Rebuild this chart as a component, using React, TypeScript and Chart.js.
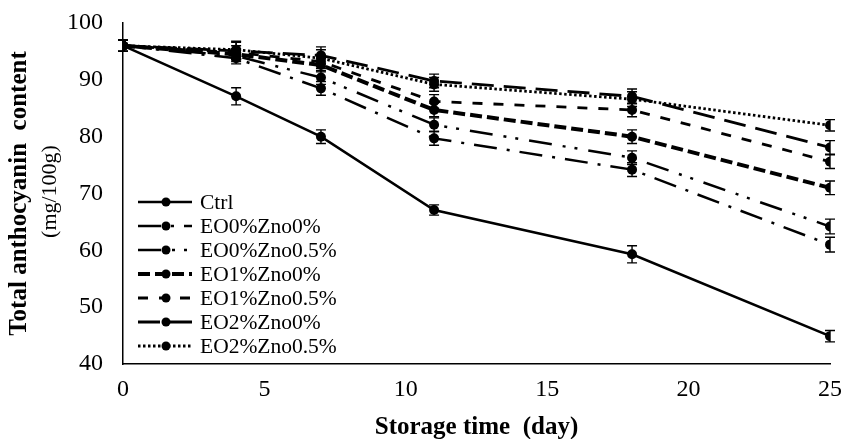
import React, { useEffect, useRef } from "react";
import { Chart, registerables } from "chart.js";

Chart.register(...registerables);

// ---- data ----
const days = [0, 4, 7, 11, 18, 25];
const seriesNames = [
  "Ctrl",
  "EO0%Zno0%",
  "EO0%Zno0.5%",
  "EO1%Zno0%",
  "EO1%Zno0.5%",
  "EO2%Zno0%",
  "EO2%Zno0.5%",
];
const ctrl = [96, 87.1, 80, 67.1, 59.3, 44.9];
const eo0zno0 = [96, 93.8, 88.5, 79.7, 74.2, 61];
const eo0zno05 = [96, 94.2, 90.4, 82.1, 76.3, 64.2];
const eo1zno0 = [96, 94.5, 92.6, 84.7, 80, 71];
const eo1zno05 = [96, 94.8, 93.2, 86.2, 84.7, 75.6];
const eo2zno0 = [96, 95.1, 94.3, 89.8, 87.1, 78.1];
const eo2zno05 = [96, 95.3, 93.8, 89.2, 86.6, 82];

const ctrlErr = [1, 1.5, 1.2, 0.9, 1.5, 1];
const eo0zno0Err = [1, 1, 1.2, 1.2, 1.2, 1.3];
const eo0zno05Err = [1, 1, 1.2, 1.2, 1.2, 1.3];
const eo1zno0Err = [1, 1, 1.2, 1.2, 1.2, 1.2];
const eo1zno05Err = [1, 1.2, 1.2, 1.2, 1.2, 1.2];
const eo2zno0Err = [1, 1.5, 1.5, 1.2, 1.3, 1.2];
const eo2zno05Err = [1, 1.5, 1.5, 1.2, 1.3, 1];

const yTickMin = 40;
const yTickMax = 100;
const yTickStep = 10;
const xTickMin = 0;
const xTickMax = 25;
const xTickStep = 5;

const xTitle = "Storage time  (day)";
const yTitle = "Total anthocyanin  content";
const yUnit = "(mg/100g)";

const seriesValues = [ctrl, eo0zno0, eo0zno05, eo1zno0, eo1zno05, eo2zno0, eo2zno05];
const seriesErrors = [ctrlErr, eo0zno0Err, eo0zno05Err, eo1zno0Err, eo1zno05Err, eo2zno0Err, eo2zno05Err];
const seriesDash: number[][] = [
  [],
  [23, 10, 3, 10],
  [23, 11, 3, 9, 3, 11],
  [12, 5],
  [10, 11],
  [22, 10],
  [2.5, 2.5],
];
const seriesWidth = [2.5, 2.5, 2.5, 4, 2.8, 2.8, 2.8];

const SERIF = "'Liberation Serif', 'Times New Roman', serif";

const errorBarPlugin = {
  id: "errorBars",
  afterDatasetsDraw(chart: any) {
    const ctx = chart.ctx;
    const xs = chart.scales.x;
    const ys = chart.scales.y;
    ctx.save();
    ctx.strokeStyle = "#000";
    ctx.lineWidth = 1.4;
    ctx.setLineDash([]);
    seriesValues.forEach((vals, si) => {
      vals.forEach((v, i) => {
        const e = seriesErrors[si][i];
        const px = xs.getPixelForValue(days[i]);
        const top = ys.getPixelForValue(v + e);
        const bot = ys.getPixelForValue(v - e);
        ctx.beginPath();
        ctx.moveTo(px, top);
        ctx.lineTo(px, bot);
        ctx.moveTo(px - 5, top);
        ctx.lineTo(px + 5, top);
        ctx.moveTo(px - 5, bot);
        ctx.lineTo(px + 5, bot);
        ctx.stroke();
      });
    });
    ctx.restore();
  },
};

const legendPlugin = {
  id: "customLegend",
  afterDraw(chart: any) {
    const ctx = chart.ctx;
    ctx.save();
    const x0 = 138;
    const x1 = 192;
    const mx = 166;
    const textX = 200;
    const startY = 202;
    const step = 24;
    seriesNames.forEach((name, i) => {
      const y = startY + i * step;
      ctx.strokeStyle = "#000";
      ctx.lineWidth = seriesWidth[i];
      ctx.lineCap = "butt";
      ctx.setLineDash(seriesDash[i]);
      ctx.beginPath();
      ctx.moveTo(x0, y);
      ctx.lineTo(x1, y);
      ctx.stroke();
      ctx.setLineDash([]);
      ctx.fillStyle = "#000";
      ctx.beginPath();
      ctx.arc(mx, y, 4.5, 0, Math.PI * 2);
      ctx.fill();
      ctx.font = `21.5px ${SERIF}`;
      ctx.textBaseline = "middle";
      ctx.textAlign = "left";
      ctx.fillText(name, textX, y + 1);
    });
    ctx.restore();
  },
};

const titlePlugin = {
  id: "axisTitles",
  afterDraw(chart: any) {
    const ctx = chart.ctx;
    const area = chart.chartArea;
    ctx.save();
    ctx.fillStyle = "#000";
    ctx.textAlign = "center";
    ctx.textBaseline = "middle";
    // x title
    ctx.font = `bold 25px ${SERIF}`;
    ctx.fillText(xTitle, (area.left + area.right) / 2, 428);
    // y title
    const cy = (area.top + area.bottom) / 2;
    ctx.translate(20, cy);
    ctx.rotate(-Math.PI / 2);
    ctx.font = `bold 25px ${SERIF}`;
    ctx.fillText(yTitle, 0, 0);
    ctx.font = `22px ${SERIF}`;
    ctx.fillText(yUnit, 2, 30);
    ctx.restore();
  },
};

export default function App() {
  const ref = useRef<HTMLCanvasElement | null>(null);

  useEffect(() => {
    if (!ref.current) return;
    const datasets = seriesNames.map((name, si) => ({
      label: name,
      data: days.map((d, i) => ({ x: d, y: seriesValues[si][i] })),
      borderColor: "#000",
      backgroundColor: "#000",
      borderWidth: seriesWidth[si],
      borderDash: seriesDash[si],
      borderCapStyle: "butt" as const,
      pointRadius: 5,
      pointBackgroundColor: "#000",
      pointBorderWidth: 0,
      tension: 0,
      fill: false,
    }));
    const chart = new Chart(ref.current, {
      type: "line",
      data: { datasets },
      options: {
        animation: false,
        responsive: false,
        devicePixelRatio: 1,
        layout: { padding: { left: 0, right: 11, top: 23, bottom: 0 } },
        plugins: {
          legend: { display: false },
          tooltip: { enabled: false },
        },
        scales: {
          x: {
            type: "linear",
            min: xTickMin,
            max: xTickMax,
            ticks: {
              stepSize: xTickStep,
              color: "#000",
              font: { family: SERIF, size: 24 },
              padding: 11,
              maxRotation: 0,
            },
            grid: { drawOnChartArea: false, drawTicks: false },
            border: { display: true, color: "#000", width: 1.5 },
            afterFit: (s: any) => {
              s.height = 75;
              s.paddingRight = 0;
              s.paddingLeft = 0;
            },
          },
          y: {
            min: yTickMin,
            max: yTickMax,
            ticks: {
              stepSize: yTickStep,
              color: "#000",
              font: { family: SERIF, size: 24 },
              padding: 20,
            },
            grid: { drawOnChartArea: false, drawTicks: false },
            border: { display: true, color: "#000", width: 1.5 },
            afterFit: (s: any) => {
              s.width = 123;
              s.paddingTop = 0;
              s.paddingBottom = 0;
            },
          },
        },
      },
      plugins: [errorBarPlugin, legendPlugin, titlePlugin],
    });
    return () => chart.destroy();
  }, []);

  return (
    <div style={{ position: "absolute", left: 0, top: 0, width: 841, height: 439, background: "#fff" }}>
      <canvas ref={ref} width={841} height={439} style={{ width: 841, height: 439 }} />
    </div>
  );
}
